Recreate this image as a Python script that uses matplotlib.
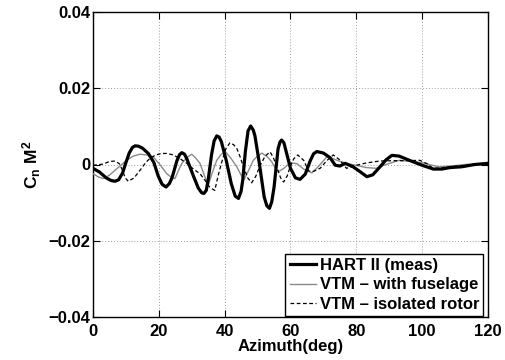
import matplotlib
matplotlib.use("Agg")
import matplotlib.pyplot as plt

plt.rcParams['font.family'] = ['Liberation Sans', 'DejaVu Sans']
plt.rcParams['font.weight'] = 'bold'
plt.rcParams['mathtext.fontset'] = 'custom'
plt.rcParams['mathtext.rm'] = 'Liberation Sans:bold'
plt.rcParams['mathtext.bf'] = 'Liberation Sans:bold'
plt.rcParams['mathtext.it'] = 'Liberation Sans:bold'

hart_az = [0, 2, 4, 5.5, 6.7, 7.8, 9, 10, 11, 12, 12.8, 13.8, 15, 16.8, 18.5, 19.8, 21, 22.2,
           23.2, 24, 25.5, 26.3, 27, 27.8, 28.5, 30.5, 32, 33, 33.7, 34.4, 35, 36, 36.8, 37.6,
           38.3, 39, 40.5, 42, 43.2, 44.2, 45, 45.5, 46.3, 47.1, 47.9, 48.7, 49.2, 50.5, 52,
           52.8, 53.6, 54.3, 55, 56.2, 56.8, 57.3, 58, 58.5, 60, 61.5, 62.9, 64.5, 66, 67, 68,
           70, 72, 73.6, 75, 76.6, 79, 81, 83.2, 85, 87, 89, 90.8, 93, 96.4, 100, 103.4, 106,
           108.5, 112, 116, 120]
hart_val = [-0.0010, -0.0020, -0.0035, -0.0042, -0.0044, -0.0040, -0.0022, 0.0005, 0.0030,
            0.0045, 0.0049, 0.0048, 0.0043, 0.0029, 0.0005, -0.0030, -0.0052, -0.0059, -0.0050,
            -0.0035, 0.0010, 0.0026, 0.0031, 0.0027, 0.0015, -0.0030, -0.0062, -0.0074, -0.0076,
            -0.0068, -0.0040, 0.0025, 0.0062, 0.0075, 0.0072, 0.0060, 0.0010, -0.0050, -0.0083,
            -0.0089, -0.0070, -0.0040, 0.0035, 0.0088, 0.0101, 0.0090, 0.0075, 0.0005, -0.0085,
            -0.0108, -0.0115, -0.0098, -0.0060, 0.0040, 0.0059, 0.0064, 0.0057, 0.0040, -0.0010,
            -0.0035, -0.0039, -0.0025, 0.0010, 0.0028, 0.0034, 0.0030, 0.0018, -0.0002, -0.0004,
            0.0003, -0.0006, -0.0018, -0.0032, -0.0027, -0.0008, 0.0012, 0.0024, 0.0022, 0.0010,
            -0.0002, -0.0012, -0.0012, -0.0008, -0.0006, 0.0000, 0.0003]

fus_az = [0, 1.5, 3.1, 5, 6.7, 8.5, 10.2, 12.2, 14.3, 16.3, 18.3, 20.3, 22.4, 23.6, 24.9, 26, 27,
          28.5, 30, 31.2, 32.5, 33.8, 35, 36.3, 37.6, 38.8, 40.1, 42, 43.7, 44.8, 45.9, 47.3,
          48.7, 50, 51.3, 53, 54.3, 55.3, 56.3, 58, 59.9, 62, 64, 66.5, 68.5, 71, 73, 74.7, 77,
          79.8, 83, 86, 89, 93, 97, 100.3, 103, 105.3, 109, 113, 117, 120]
fus_val = [-0.0024, -0.0032, -0.0037, -0.0028, -0.0015, -0.0002, 0.0011, 0.0022, 0.0027, 0.0025,
           0.0020, 0.0000, -0.0024, -0.0032, -0.0037, -0.0015, 0.0003, 0.0018, 0.0027, 0.0017,
           0.0003, -0.0028, -0.0054, -0.0020, 0.0011, 0.0025, 0.0035, 0.0015, -0.0006, -0.0025,
           -0.0039, -0.0015, 0.0011, 0.0022, 0.0030, 0.0020, 0.0007, -0.0008, -0.0019, -0.0010,
           0.0005, 0.0002, -0.0012, -0.0022, -0.0005, 0.0020, 0.0015, 0.0009, 0.0003, -0.0002,
           -0.0008, -0.0010, 0.0000, 0.0011, 0.0008, 0.0004, -0.0002, -0.0006, -0.0004, 0.0000,
           0.0002, 0.0003]

iso_az = [0, 3.1, 5, 6.7, 8, 8.7, 9.8, 10.7, 12.5, 14.3, 16, 17.3, 19, 20.9, 22.5, 24.4, 26.5,
          28.5, 30.5, 32.5, 34, 35.5, 37, 38, 39, 40.3, 41.6, 42.7, 43.7, 44.7, 45.7, 47, 48.2,
          49.5, 50.8, 52.3, 53.8, 54.8, 55.8, 57, 57.9, 59, 59.9, 61, 62.2, 64, 65.5, 67, 69, 71,
          73, 75, 77, 80, 83, 87, 91, 95, 99.3, 101.5, 103.3, 106, 108, 112, 116, 120]
iso_val = [-0.0002, 0.0001, 0.0008, 0.0009, 0.0002, -0.0010, -0.0035, -0.0044, -0.0035, -0.0015,
           0.0005, 0.0016, 0.0025, 0.0029, 0.0029, 0.0025, 0.0015, 0.0003, -0.0012, -0.0024,
           -0.0041, -0.0060, -0.0068, -0.0030, 0.0003, 0.0040, 0.0057, 0.0052, 0.0042, 0.0020,
           -0.0006, -0.0035, -0.0048, -0.0030, -0.0002, 0.0022, 0.0033, 0.0018, -0.0006, -0.0035,
           -0.0046, -0.0030, -0.0006, 0.0015, 0.0025, 0.0011, -0.0017, -0.0018, -0.0010, 0.0010,
           0.0025, 0.0012, -0.0010, -0.0002, 0.0004, 0.0009, 0.0010, 0.0010, 0.0011, 0.0002,
           -0.0010, -0.0009, -0.0006, -0.0003, 0.0001, 0.0003]

xticks = [0, 20, 40, 60, 80, 100, 120]
yticks = [-0.04, -0.02, 0, 0.02, 0.04]
ytick_labels = ['\u22120.04', '\u22120.02', '0', '0.02', '0.04']
labels = ['HART II (meas)', 'VTM \u2013 with fuselage', 'VTM \u2013 isolated rotor']

fig = plt.figure(figsize=(5.06, 3.60), dpi=100)
ax = fig.add_axes([93 / 506, 43 / 360, 395 / 506, 305 / 360])

ax.plot(hart_az, hart_val, color='black', lw=2.3, label=labels[0], zorder=4,
        solid_joinstyle='round')
ax.plot(fus_az, fus_val, color='#8a8a8a', lw=1.0, label=labels[1], zorder=3)
ax.plot(iso_az, iso_val, color='black', lw=0.9, dashes=(3, 2), label=labels[2], zorder=3)

ax.set_xlim(0, 120)
ax.set_ylim(-0.04, 0.04)
ax.set_xticks(xticks)
ax.set_yticks(yticks)
ax.set_yticklabels(ytick_labels)
ax.grid(True, linestyle=(0, (1, 2)), color='#a0a0a0', linewidth=0.7)
ax.tick_params(direction='in', top=True, right=True, length=5, width=0.8,
               labelsize=12, pad=2)
ax.tick_params(axis='x', pad=5)
for lbl in ax.get_xticklabels() + ax.get_yticklabels():
    lbl.set_fontweight('bold')
for s in ax.spines.values():
    s.set_linewidth(1.0)

ax.set_xlabel('Azimuth(deg)', fontsize=12, fontweight='bold', labelpad=0)
ax.set_ylabel(r'C$_\mathregular{n}$ M$^\mathregular{2}$', fontsize=12.5, fontweight='bold', labelpad=4)

leg = ax.legend(loc='lower right', bbox_to_anchor=(0.988, 0.003), borderaxespad=0,
                fancybox=False, frameon=True, edgecolor='black', framealpha=1,
                handlelength=1.6, handletextpad=0.2, labelspacing=0.27,
                borderpad=0.25, prop={'weight': 'bold', 'size': 12})
leg.get_frame().set_linewidth(1.0)

fig.savefig('out.png', dpi=100)
